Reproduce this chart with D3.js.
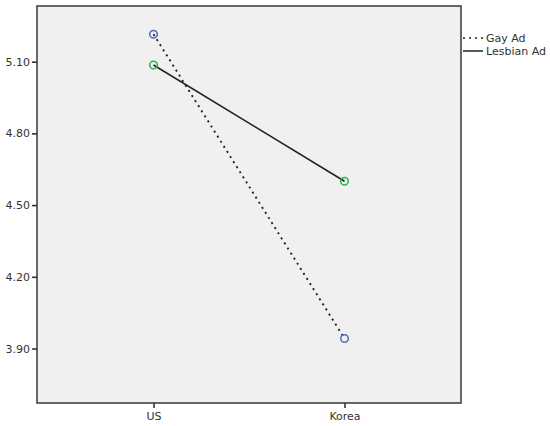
<!DOCTYPE html>
<html><head><meta charset="utf-8">
<script src="https://cdn.jsdelivr.net/npm/d3@7"></script>
<style>body{margin:0;background:#fff;} text{font-family:"Lucida Grande","DejaVu Sans",sans-serif;}</style>
</head><body>
<svg id="c" width="550" height="426"></svg>
<script>
const categories = ["US", "Korea"];
const seriesNames = ["Gay Ad", "Lesbian Ad"];
const gayAd = [5.215, 3.942];
const lesbianAd = [5.086, 4.600];
const yTicks = [3.90, 4.20, 4.50, 4.80, 5.10];

const svg = d3.select("#c");
const L = 37, R = 461, T = 6, B = 403;
const x = d3.scalePoint().domain(categories).range([L, R]).padding(0.61);
const y = d3.scaleLinear().domain([3.672, 5.333]).range([B, T]);

svg.append("rect").attr("x", L).attr("y", T).attr("width", R - L).attr("height", B - T)
  .attr("fill", "#f0f0f0").attr("stroke", "#444").attr("stroke-width", 1.6);

const yAxis = svg.append("g").attr("transform", `translate(${L},0)`)
  .call(d3.axisLeft(y).tickValues(yTicks).tickFormat(d3.format(".2f")).tickSize(5).tickPadding(2));
yAxis.select(".domain").remove();
yAxis.selectAll("line").attr("stroke", "#333").attr("stroke-width", 1.6);
yAxis.selectAll("text").attr("fill", "#333").attr("font-size", 11);

const xAxis = svg.append("g").attr("transform", `translate(0,${B})`)
  .call(d3.axisBottom(x).tickSize(5).tickPadding(4));
xAxis.select(".domain").remove();
xAxis.selectAll("line").attr("stroke", "#333").attr("stroke-width", 1.6);
xAxis.selectAll("text").attr("fill", "#333").attr("font-size", 11);

const series = [
  {name: seriesNames[0], values: gayAd, dash: "2,4", width: 1.9, color: "#4a6dc2"},
  {name: seriesNames[1], values: lesbianAd, dash: null, width: 1.6, color: "#2db54e"}
];
const line = d3.line().x((d, i) => x(categories[i])).y(d => y(d));

series.forEach(s => {
  svg.append("path").datum(s.values).attr("d", line)
    .attr("fill", "none").attr("stroke", "#222").attr("stroke-width", s.width)
    .attr("stroke-dasharray", s.dash);
});
series.forEach(s => {
  svg.selectAll(null).data(s.values).enter().append("circle")
    .attr("cx", (d, i) => x(categories[i])).attr("cy", d => y(d)).attr("r", 3.8)
    .attr("fill", "none").attr("stroke", s.color).attr("stroke-width", 1.5);
});

const lg = svg.append("g").attr("transform", "translate(463,38)");
series.forEach((s, i) => {
  const g = lg.append("g").attr("transform", `translate(0,${i * 13})`);
  g.append("line").attr("x1", 0).attr("x2", 20).attr("y1", 0).attr("y2", 0)
    .attr("stroke", "#222").attr("stroke-width", 1.5).attr("stroke-dasharray", s.dash);
  g.append("text").attr("x", 23).attr("y", 0).attr("dy", "0.35em")
    .attr("font-size", 11).attr("fill", "#333").text(s.name);
});
</script>
</body></html>
